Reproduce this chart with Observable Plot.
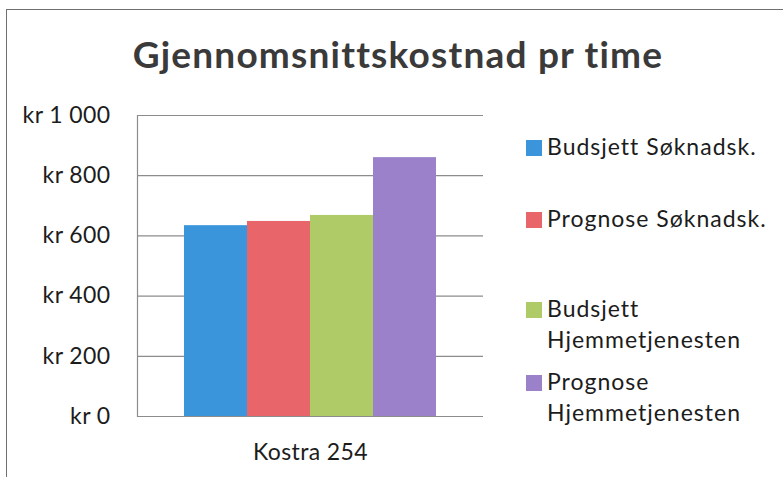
<!DOCTYPE html>
<html>
<head>
<meta charset="utf-8">
<script src="https://cdn.jsdelivr.net/npm/d3@7"></script>
<script src="https://cdn.jsdelivr.net/npm/@observablehq/plot@0.6"></script>
<style>
  html, body { margin: 0; padding: 0; background: #fff; }
  #wrap { position: relative; width: 783px; height: 477px; overflow: hidden; background: #fff; font-family: Lato, "Open Sans", sans-serif; }
  #wrap .frame-top { position: absolute; left: 7px; top: 9px; width: 776px; height: 0; border-top: 1.5px solid #707070; }
  #wrap .frame-left { position: absolute; left: 6px; top: 9px; width: 0; height: 468px; border-left: 1.5px solid #707070; }
  #title { position: absolute; left: 0; width: 796px; top: 32px; text-align: center; font-family: Lato, sans-serif; font-weight: 700; font-size: 37px; letter-spacing: 1.2px; line-height: 44px; color: #3a3a3a; margin: 0; }
  #chart { position: absolute; left: 0; top: 0; }
  #legend { position: absolute; left: 526px; top: 0; width: 257px; font-family: Lato, sans-serif; font-size: 23px; letter-spacing: 1px; line-height: 31px; color: #1c1c1c; }
  #legend .item { position: absolute; left: 0; display: flex; align-items: flex-start; width: 257px; }
  #legend .sw { flex: 0 0 auto; width: 16px; height: 16px; margin-top: 9px; margin-right: 5px; }
  #legend .lbl { width: 225px; }
</style>
</head>
<body>
<div id="wrap">
  <div class="frame-top"></div>
  <div class="frame-left"></div>
  <div id="chart"></div>
  <div id="title"></div>
  <div id="legend"></div>
</div>
<script>
// ---- data ----
const title = "Gjennomsnittskostnad pr time";
const categories = ["Kostra 254"];
const series = ["Budsjett Søknadsk.", "Prognose Søknadsk.", "Budsjett Hjemmetjenesten", "Prognose Hjemmetjenesten"];
const values = [634, 648, 668, 860];
const colors = ["#3b95db", "#e8666a", "#afcb68", "#9a81ca"];
const yTicks = [0, 200, 400, 600, 800, 1000];

// legend layout (styling)
const legendTops = [131, 203, 293, 366];

const data = series.map((s, i) => ({category: categories[0], series: s, value: values[i]}));
const nb = d3.formatLocale({decimal: ",", thousands: " ", grouping: [3], currency: ["kr ", ""]});
const fmt = nb.format("$,");

const chart = Plot.plot({
  width: 783,
  height: 477,
  marginLeft: 137,
  marginRight: 300,
  marginTop: 115,
  marginBottom: 61,
  style: {fontFamily: "Lato, sans-serif", fontSize: "23px", color: "#1c1c1c", background: "transparent", overflow: "visible", letterSpacing: "0.4px"},
  y: {domain: [0, 1000]},
  fx: {domain: categories, padding: 0, label: null},
  x: {domain: series, paddingInner: 0, paddingOuter: 0.746, axis: null},
  color: {domain: series, range: colors},
  marks: [
    Plot.gridY(yTicks, {stroke: "#8c8c8c", strokeOpacity: 1, strokeWidth: 1.2}),
    Plot.frame({anchor: "left", stroke: "#8c8c8c", strokeWidth: 1.2}),
    Plot.axisY(yTicks, {tickSize: 0, tickPadding: 27, tickFormat: fmt, fontSize: 23, label: null}),
    Plot.barY(data, {fx: "category", x: "series", y: "value", fill: "series"}),
    Plot.axisFx({anchor: "bottom", tickSize: 0, tickPadding: 27, fontSize: 23, label: null})
  ]
});
document.getElementById("chart").appendChild(chart);
document.getElementById("title").textContent = title;

const legend = document.getElementById("legend");
series.forEach((s, i) => {
  const item = document.createElement("div");
  item.className = "item";
  item.style.top = legendTops[i] + "px";
  const sw = document.createElement("div");
  sw.className = "sw";
  sw.style.background = colors[i];
  const lbl = document.createElement("div");
  lbl.className = "lbl";
  lbl.textContent = s;
  item.appendChild(sw);
  item.appendChild(lbl);
  legend.appendChild(item);
});
</script>
</body>
</html>
